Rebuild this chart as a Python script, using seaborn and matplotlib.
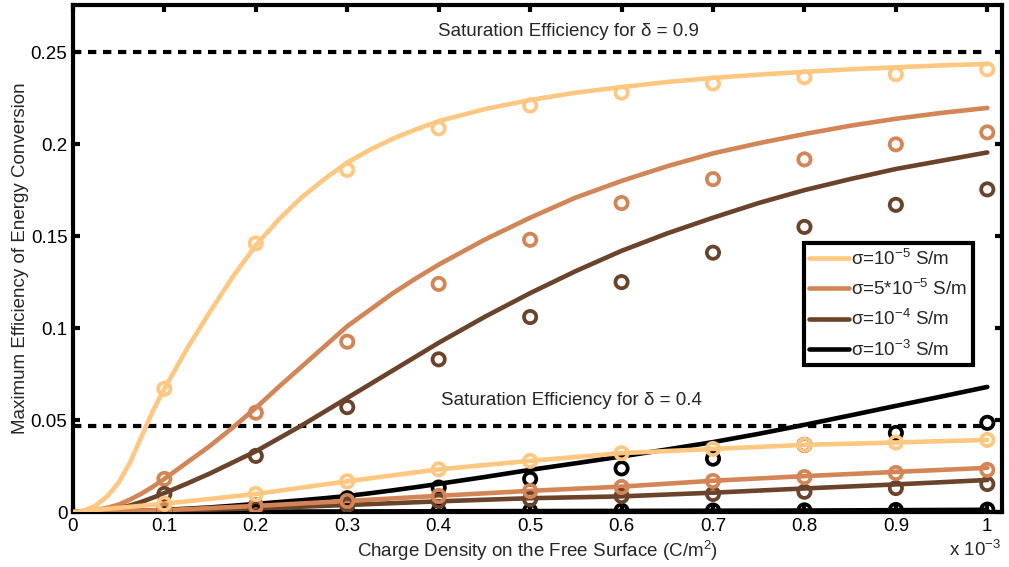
import matplotlib
matplotlib.use("Agg")
import matplotlib.pyplot as plt
import seaborn as sns

# ---------------- data (x in units of 1e-3 C/m^2) ----------------
x_theory = [0, 0.0125, 0.025, 0.0375, 0.05, 0.0625, 0.075, 0.0875, 0.1, 0.125, 0.15,
            0.175, 0.2, 0.225, 0.25, 0.275, 0.3, 0.325, 0.35, 0.375, 0.4, 0.45, 0.5,
            0.55, 0.6, 0.65, 0.7, 0.75, 0.8, 0.85, 0.9, 0.95, 1.0]
# delta = 0.9, theory curves
th09_s1e5 = [0, 0.0008, 0.0035, 0.0085, 0.016, 0.027, 0.041, 0.055, 0.067, 0.089, 0.109,
             0.128, 0.145, 0.159, 0.171, 0.181, 0.190, 0.197, 0.203, 0.208, 0.2125, 0.219,
             0.224, 0.228, 0.231, 0.2338, 0.236, 0.2378, 0.2393, 0.2407, 0.2418, 0.2428, 0.2436]
th09_s5e5 = [0, 0.0003, 0.001, 0.0023, 0.004, 0.0068, 0.010, 0.0138, 0.018, 0.027, 0.036,
             0.046, 0.0566, 0.068, 0.079, 0.090, 0.101, 0.110, 0.119, 0.127, 0.1345, 0.148,
             0.160, 0.171, 0.180, 0.188, 0.195, 0.2005, 0.2055, 0.210, 0.2138, 0.217, 0.2197]
th09_s1e4 = [0, 0.0001, 0.0005, 0.0011, 0.002, 0.0036, 0.0055, 0.0078, 0.0103, 0.0155, 0.021,
             0.027, 0.033, 0.040, 0.047, 0.0545, 0.062, 0.0695, 0.077, 0.0845, 0.092, 0.106,
             0.119, 0.131, 0.142, 0.1515, 0.160, 0.168, 0.175, 0.181, 0.1865, 0.191, 0.1955]
th09_s1e3 = [0, 0.0, 0.0, 0.0001, 0.0003, 0.0005, 0.0007, 0.0009, 0.0012, 0.0018, 0.0025,
             0.0034, 0.0044, 0.0054, 0.0064, 0.0075, 0.0087, 0.0102, 0.0118, 0.0135, 0.0153, 0.019,
             0.0229, 0.0265, 0.0302, 0.034, 0.038, 0.0425, 0.0474, 0.0525, 0.0577, 0.0628, 0.068]

x_sim = [0.1, 0.2, 0.3, 0.4, 0.5, 0.6, 0.7, 0.8, 0.9, 1.0]
# delta = 0.9, simulated points
sim09_s1e5 = [0.067, 0.146, 0.186, 0.2086, 0.221, 0.228, 0.233, 0.2364, 0.238, 0.2407]
sim09_s5e5 = [0.018, 0.054, 0.0926, 0.124, 0.148, 0.168, 0.181, 0.1917, 0.1999, 0.2064]
sim09_s1e4 = [0.0098, 0.0305, 0.057, 0.083, 0.106, 0.125, 0.141, 0.155, 0.167, 0.1754]
sim09_s1e3 = [0.0012, 0.0035, 0.0075, 0.0133, 0.018, 0.0237, 0.029, 0.0365, 0.043, 0.0485]

x_low = [0, 0.1, 0.2, 0.3, 0.4, 0.5, 0.6, 0.7, 0.8, 0.9, 1.0]
# delta = 0.4, theory curves
th04_s1e5 = [0, 0.0045, 0.0098, 0.0167, 0.0232, 0.0278, 0.032, 0.0343, 0.0365, 0.0378, 0.0392]
th04_s5e5 = [0, 0.001, 0.0033, 0.006, 0.0088, 0.0115, 0.0138, 0.017, 0.0195, 0.0218, 0.024]
th04_s1e4 = [0, 0.0006, 0.002, 0.0038, 0.0058, 0.0075, 0.0085, 0.0105, 0.0128, 0.015, 0.0174]
th04_s1e3 = [0, 0.0001, 0.0002, 0.0003, 0.0004, 0.0005, 0.0006, 0.0007, 0.0008, 0.001, 0.0012]
# delta = 0.4, simulated points
sim04_s1e5 = [0.0045, 0.0098, 0.0167, 0.0232, 0.0278, 0.032, 0.0343, 0.0365, 0.0378, 0.0392]
sim04_s5e5 = [0.001, 0.0033, 0.006, 0.0087, 0.0114, 0.0136, 0.0169, 0.019, 0.0212, 0.0229]
sim04_s1e4 = [0.0006, 0.002, 0.0038, 0.006, 0.007, 0.0087, 0.0098, 0.011, 0.013, 0.0152]
sim04_s1e3 = [0.0002, 0.0003, 0.0004, 0.0005, 0.0006, 0.0007, 0.0008, 0.0009, 0.0011, 0.0013]

sat_09 = 0.25
sat_04 = 0.0465
labels = ["σ=10$^{-5}$ S/m", "σ=5*10$^{-5}$ S/m", "σ=10$^{-4}$ S/m", "σ=10$^{-3}$ S/m"]
colors = ["#FFC77F", "#D48555", "#6A432A", "#000000"]
x_ticks = [0, 0.1, 0.2, 0.3, 0.4, 0.5, 0.6, 0.7, 0.8, 0.9, 1.0]
x_ticklabels = ["0", "0.1", "0.2", "0.3", "0.4", "0.5", "0.6", "0.7", "0.8", "0.9", "1"]
y_ticks = [0, 0.05, 0.1, 0.15, 0.2, 0.25]
y_ticklabels = ["0", "0.05", "0.1", "0.15", "0.2", "0.25"]

# ---------------- style ----------------
sns.set_style("ticks")
plt.rcParams["font.family"] = ["Liberation Sans", "DejaVu Sans"]
plt.rcParams["mathtext.fontset"] = "custom"
plt.rcParams["mathtext.rm"] = "Liberation Sans"
plt.rcParams["mathtext.it"] = "Liberation Sans:italic"
plt.rcParams["axes.unicode_minus"] = True

fig = plt.figure(figsize=(10.09, 5.67), dpi=100)
ax = fig.add_axes([0.0723, 0.097, 0.9207, 0.894])

FS = 13.5
LW = 3.3
MS = 78
MEW = 2.7

# saturation lines
for yv in (sat_09, sat_04):
    sns.lineplot(x=[0, 1.0], y=[yv, yv], ax=ax, color="black", lw=3,
                 dashes=False, zorder=1)
for ln in ax.lines:
    ln.set_dashes((2.0, 1.6))

th09 = [th09_s1e5, th09_s5e5, th09_s1e4, th09_s1e3]
sim09 = [sim09_s1e5, sim09_s5e5, sim09_s1e4, sim09_s1e3]
th04 = [th04_s1e5, th04_s5e5, th04_s1e4, th04_s1e3]
sim04 = [sim04_s1e5, sim04_s5e5, sim04_s1e4, sim04_s1e3]

handles = []
for i in range(4):
    sns.lineplot(x=x_theory, y=th09[i], ax=ax, color=colors[i], lw=LW, zorder=3)
    handles.append(ax.lines[-1])
for i in range(4):
    sns.scatterplot(x=x_sim, y=sim09[i], ax=ax, s=MS, marker="o",
                    facecolors="none", edgecolor=colors[i], linewidth=MEW, zorder=4)
for i in [3, 2, 1, 0]:
    sns.lineplot(x=x_low, y=th04[i], ax=ax, color=colors[i], lw=LW, zorder=5)
    sns.scatterplot(x=x_sim, y=sim04[i], ax=ax, s=MS, marker="o",
                    facecolors="none", edgecolor=colors[i], linewidth=MEW, zorder=6)

ax.set_xlim(0, 1.016)
ax.set_ylim(0, 0.2756)
ax.set_xticks(x_ticks)
ax.set_xticklabels(x_ticklabels)
ax.set_yticks(y_ticks)
ax.set_yticklabels(y_ticklabels)
ax.tick_params(direction="in", length=5, width=3, top=True, right=True,
               labelsize=FS, pad=4, colors="black")
for sp in ax.spines.values():
    sp.set_linewidth(3)
    sp.set_color("black")

ax.set_xlabel("Charge Density on the Free Surface (C/m$^2$)", fontsize=FS, labelpad=3)
ax.set_ylabel("Maximum Efficiency of Energy Conversion", fontsize=FS, labelpad=1)

ax.text(0.542, 0.2615, "Saturation Efficiency for δ = 0.9", fontsize=FS,
        ha="center", va="center")
ax.text(0.545, 0.0605, "Saturation Efficiency for δ = 0.4", fontsize=FS,
        ha="center", va="center")
fig.text(0.992, 0.03, "x 10$^{-3}$", fontsize=FS, ha="right", va="center")

leg = ax.legend(handles, labels, loc="upper right", bbox_to_anchor=(0.969, 0.531),
                fontsize=FS, frameon=True, fancybox=False, framealpha=1,
                handlelength=2.1, handletextpad=0.15, labelspacing=0.55,
                borderpad=0.3, borderaxespad=0)
leg.get_frame().set_edgecolor("black")
leg.get_frame().set_linewidth(3)
for h in leg.get_lines():
    h.set_linewidth(LW)

fig.savefig("out.png", dpi=100)
